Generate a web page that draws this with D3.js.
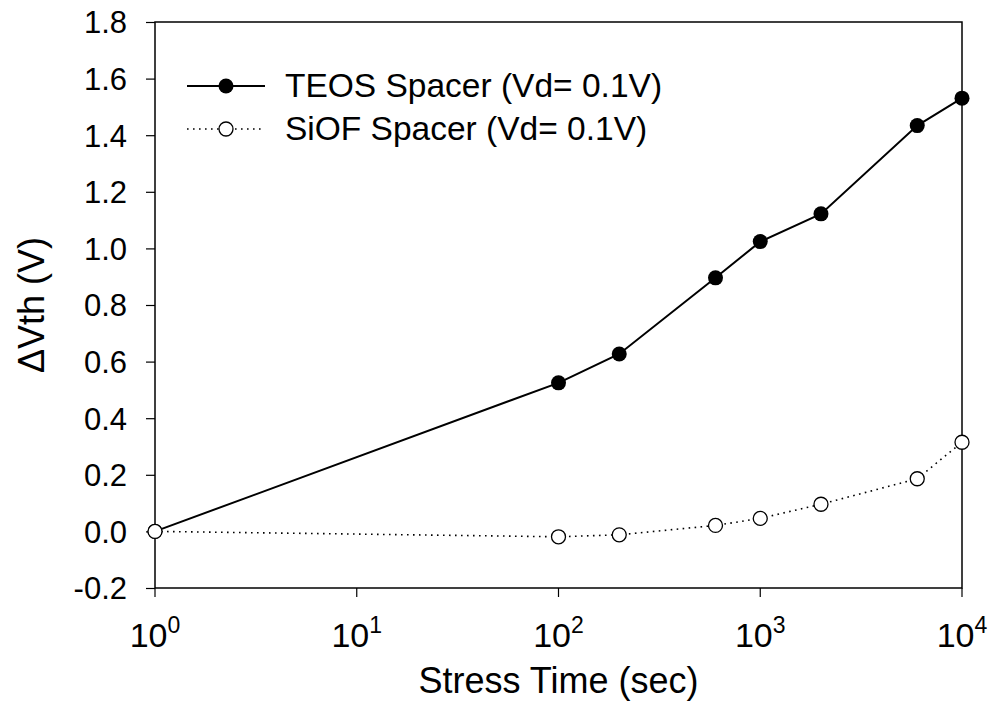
<!DOCTYPE html>
<html>
<head>
<meta charset="utf-8">
<script src="https://cdn.jsdelivr.net/npm/d3@7"></script>
<style>
  html, body { margin: 0; padding: 0; background: #fff; }
  svg text { font-family: "Liberation Sans", Arial, sans-serif; fill: #000; }
</style>
</head>
<body>
<svg id="chart" width="993" height="707"></svg>
<script>
// Stress time (seconds) at which the threshold-voltage shift was measured
const stressTime = [1, 100, 200, 600, 1000, 2000, 6000, 10000];
// Threshold-voltage shift (V) for each spacer type
const teosShift = [0.0, 0.525, 0.627, 0.896, 1.024, 1.122, 1.434, 1.531];
const siofShift = [0.0, -0.019, -0.012, 0.021, 0.046, 0.096, 0.186, 0.315];
// Axis ticks
const xTickExponents = [0, 1, 2, 3, 4];
const yTickValues = [-0.2, 0.0, 0.2, 0.4, 0.6, 0.8, 1.0, 1.2, 1.4, 1.6, 1.8];
const seriesNames = ["TEOS Spacer (Vd= 0.1V)", "SiOF Spacer (Vd= 0.1V)"];

const svg = d3.select("#chart");
const margin = { left: 155, right: 31, top: 22, bottom: 119 };
const W = 993, H = 707;
const x0 = margin.left, x1 = W - margin.right;
const y0 = H - margin.bottom, y1 = margin.top;

const x = d3.scaleLog().domain([1, 10000]).range([x0, x1]);
const y = d3.scaleLinear().domain([-0.2, 1.8]).range([y0, y1]);

// Frame
svg.append("rect")
  .attr("x", x0).attr("y", y1)
  .attr("width", x1 - x0).attr("height", y0 - y1)
  .attr("fill", "none").attr("stroke", "#000").attr("stroke-width", 1.5);

// Left axis
const yAxis = d3.axisLeft(y)
  .tickValues(yTickValues)
  .tickSize(9)
  .tickPadding(19)
  .tickFormat(d => d.toFixed(1).replace("\u2212", "-"));
const gy = svg.append("g").attr("transform", `translate(${x0},0)`).call(yAxis);
gy.select(".domain").remove();
gy.selectAll(".tick line").attr("stroke", "#000").attr("stroke-width", 1.2);
gy.selectAll(".tick text")
  .attr("font-size", 31)
  .attr("dy", "0.35em")
  .style("font-family", '"Liberation Sans", Arial, sans-serif');

// Bottom axis
const gx = svg.append("g").attr("transform", `translate(0,${y0})`);
const xt = gx.selectAll("g.tick").data(xTickExponents).join("g")
  .attr("class", "tick")
  .attr("transform", d => `translate(${x(Math.pow(10, d))},0)`);
xt.append("line").attr("y2", 9).attr("stroke", "#000").attr("stroke-width", 1.2);
const xl = xt.append("text").attr("y", 59).attr("text-anchor", "middle").attr("font-size", 34);
xl.append("tspan").text("10");
xl.append("tspan").attr("dy", -14).attr("font-size", 23).text(d => String(d));

// Axis titles
svg.append("text")
  .attr("x", (x0 + x1) / 2).attr("y", 693)
  .attr("text-anchor", "middle").attr("font-size", 36)
  .text("Stress Time (sec)");
svg.append("text")
  .attr("transform", `translate(44,${(y0 + y1) / 2}) rotate(-90)`)
  .attr("text-anchor", "middle").attr("font-size", 36)
  .text("\u0394Vth (V)");

const line = d3.line().x(d => x(d[0])).y(d => y(d[1]));
const teos = stressTime.map((t, i) => [t, teosShift[i]]);
const siof = stressTime.map((t, i) => [t, siofShift[i]]);

// SiOF: dotted line; TEOS: solid line
svg.append("path").datum(siof).attr("d", line)
  .attr("fill", "none").attr("stroke", "#000").attr("stroke-width", 1.6)
  .attr("stroke-dasharray", "1.6,4.4");
svg.append("path").datum(teos).attr("d", line)
  .attr("fill", "none").attr("stroke", "#000").attr("stroke-width", 2);

// Filled TEOS markers, then open SiOF markers on top
svg.append("g").selectAll("circle").data(teos).join("circle")
  .attr("cx", d => x(d[0])).attr("cy", d => y(d[1])).attr("r", 7.5)
  .attr("fill", "#000");
svg.append("g").selectAll("circle").data(siof).join("circle")
  .attr("cx", d => x(d[0])).attr("cy", d => y(d[1])).attr("r", 7)
  .attr("fill", "#fff").attr("stroke", "#000").attr("stroke-width", 1.3);

// Legend
const legend = svg.append("g");
const legY = [86, 129];
legend.append("line").attr("x1", 187).attr("x2", 265).attr("y1", legY[0]).attr("y2", legY[0])
  .attr("stroke", "#000").attr("stroke-width", 2);
legend.append("circle").attr("cx", 226).attr("cy", legY[0]).attr("r", 7.5).attr("fill", "#000");
legend.append("line").attr("x1", 187).attr("x2", 265).attr("y1", legY[1]).attr("y2", legY[1])
  .attr("stroke", "#000").attr("stroke-width", 1.6).attr("stroke-dasharray", "1.6,4.4");
legend.append("circle").attr("cx", 226).attr("cy", legY[1]).attr("r", 7)
  .attr("fill", "#fff").attr("stroke", "#000").attr("stroke-width", 1.3);
legend.selectAll("text").data(seriesNames).join("text")
  .attr("x", 285).attr("y", (d, i) => legY[i] + 11)
  .attr("font-size", 33.5)
  .text(d => d);
</script>
</body>
</html>
